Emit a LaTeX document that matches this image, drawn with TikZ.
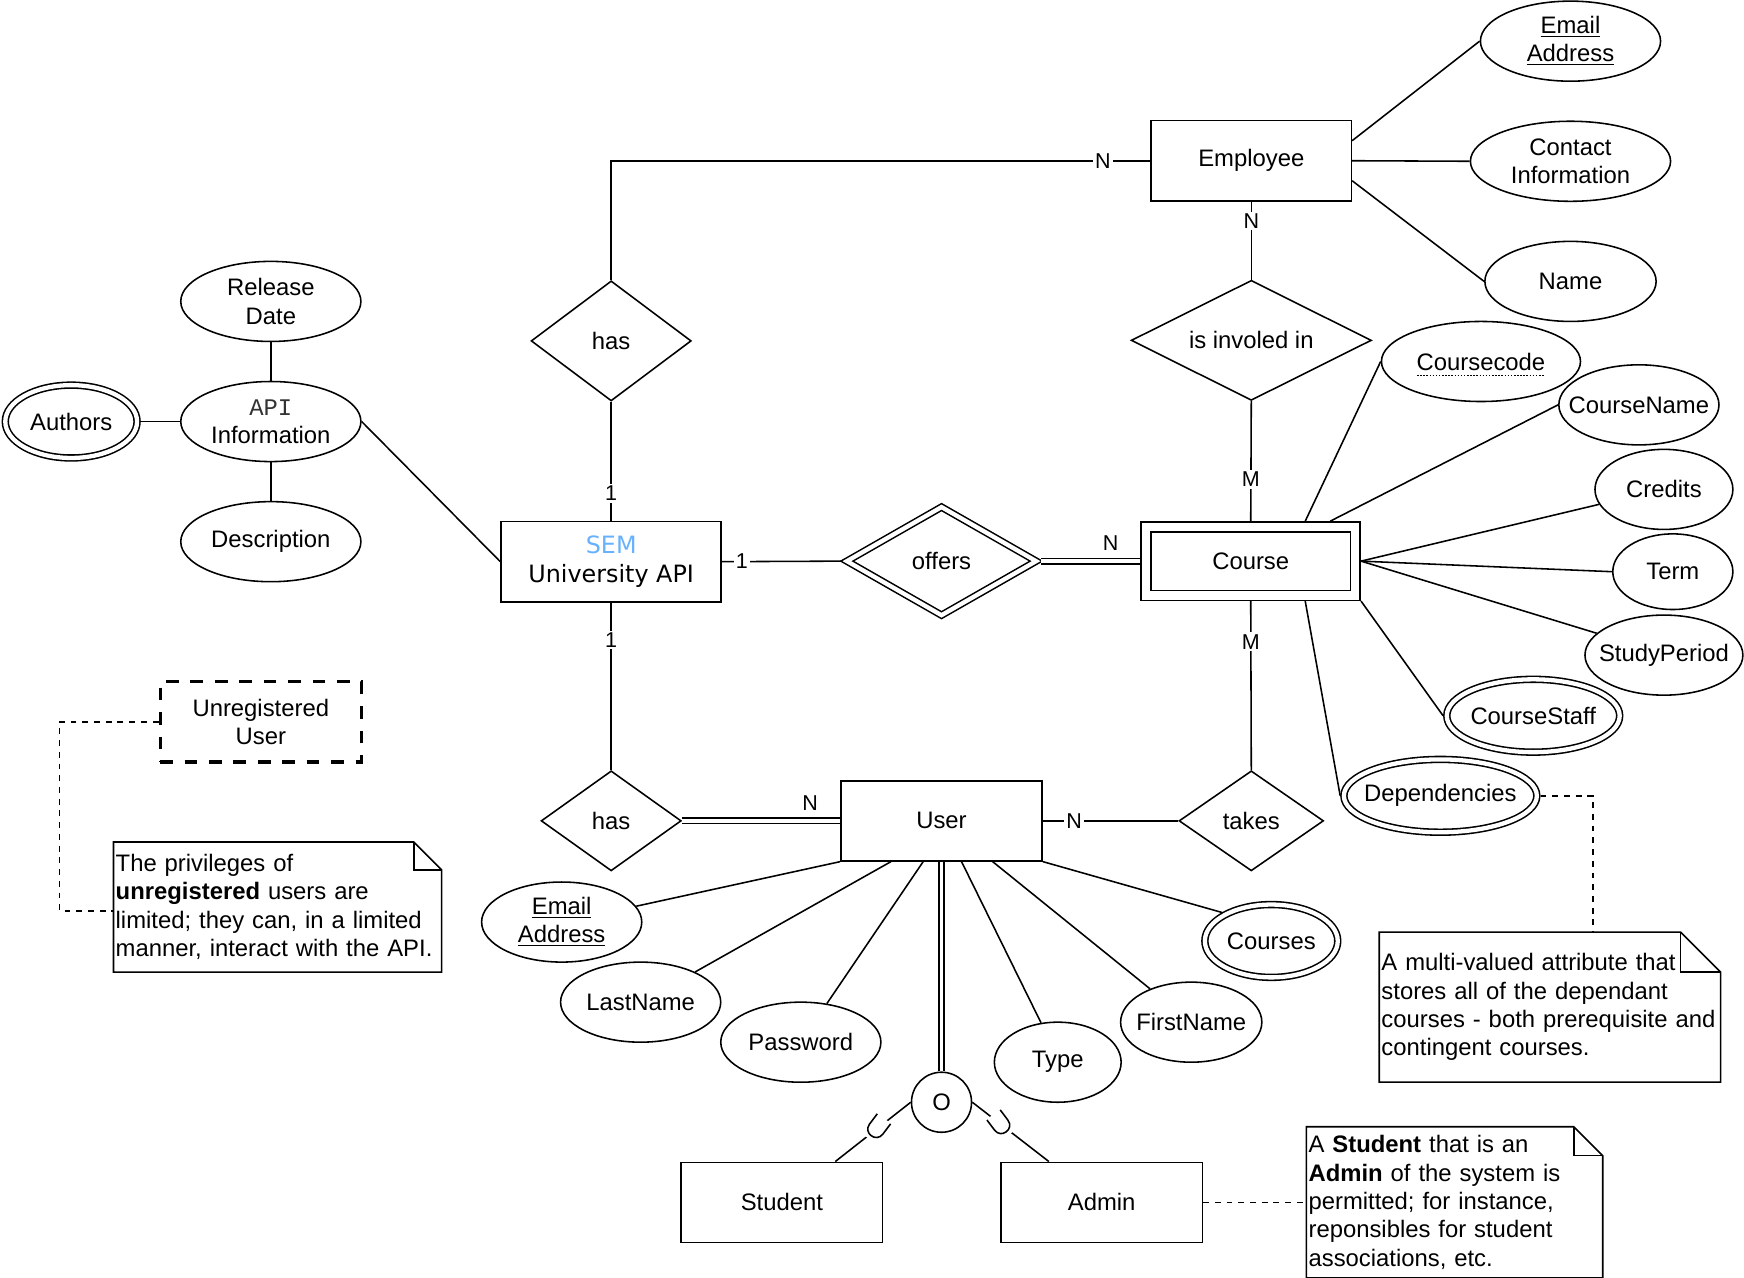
\documentclass[tikz,border=0pt]{standalone}
\usepackage{fontspec}
\setmainfont{Liberation Sans}
\newfontfamily\semfont{DejaVu Sans}
\newfontfamily\apifont{Liberation Mono}
\usepackage{tikz}
\usetikzlibrary{shapes.geometric}
\definecolor{semblue}{HTML}{66B2FF}
\tikzset{
  entity/.style={draw, rectangle, minimum width=3.62cm, minimum height=1.44cm, inner sep=0pt},
  attr/.style={draw, ellipse, minimum height=1.44cm, inner sep=-8pt},
  multi/.style={attr, double, double distance=2.2pt, outer sep=1.9pt, minimum height=1.31cm},
  rel/.style={draw, diamond, aspect=2, inner sep=0pt},
  card/.style={fill=white, inner sep=1pt, font=\fontsize{11}{13}\selectfont},
  link2/.style={double, double distance=2pt},
  dashlink/.style={dash pattern=on 3pt off 3pt},
  note/.style={inner xsep=0.04cm, inner ysep=0pt, outer sep=0pt, align=left},
  cup/.pic={
    \path[fill=white] (-0.17cm,0.2cm) rectangle (0.17cm,-0.26cm);
    \draw (-0.15cm,0.19cm) -- (-0.15cm,-0.04cm) .. controls (-0.15cm,-0.24cm) and (0.15cm,-0.24cm) .. (0.15cm,-0.04cm) -- (0.15cm,0.19cm);
  }
}
\begin{document}
\begin{tikzpicture}[x=0.02cm, y=-0.02cm, line width=0.8pt,
  every node/.style={font=\fontsize{12.2}{14.5}\selectfont, align=center}]
\useasboundingbox (0,0) rectangle (1568,1149);

\node[entity, minimum width=3.6cm] (emp) at (1125,144.5) {Employee};
\node[entity, minimum width=3.96cm] (sem) at (549.5,505) {{\semfont\color{semblue}SEM}\\{\semfont University API}};
\node[entity, double, double distance=4.3pt, outer sep=2.95pt, minimum width=3.76cm, minimum height=1.23cm] (course) at (1124.5,504.5) {Course};
\node[entity] (user) at (846.5,738) {User};
\node[entity] (student) at (703,1081) {Student};
\node[entity] (admin) at (990.5,1081) {Admin};
\node[entity, line width=1.7pt, dash pattern=on 6.5pt off 6pt] (unreg) at (234.5,649) {Unregistered\\User};
\node[draw, circle, minimum size=1.08cm, inner sep=0pt] (ovl) at (846.5,991) {O};

\node[rel, minimum width=2.88cm, minimum height=2.16cm] (has1) at (549.5,306.5) {has};
\node[rel, minimum width=4.32cm, minimum height=2.16cm] (inv) at (1125,306) {is involed in};
\node[rel, double, double distance=2.2pt, outer sep=1.9pt, minimum width=3.46cm, minimum height=2cm] (offers) at (846.5,504.5) {offers};
\node[rel, minimum width=2.52cm, minimum height=1.8cm] (has2) at (549.5,738) {has};
\node[rel, minimum width=2.6cm, minimum height=1.8cm] (takes) at (1125,738) {takes};

\node[attr, minimum width=3.24cm] (empmail) at (1412,37) {\underline{Email}\\\underline{Address}};
\node[attr, minimum width=3.6cm] (contact) at (1412,145) {Contact\\Information};
\node[attr, minimum width=3.08cm] (name) at (1412,253) {Name};
\node[attr, minimum width=3.24cm] (release) at (243.5,271) {Release\\Date};
\node[attr, minimum width=3.24cm] (apiinfo) at (243.5,379) {{\apifont\color{black!80}API}\\Information};
\node[attr, minimum width=3.24cm] (descr) at (243.5,487) {Description};
\node[multi, minimum width=2.37cm] (authors) at (64,379) {Authors};
\node[attr, minimum width=3.58cm] (ccode) at (1331.5,325) {Coursecode};
\node[attr, minimum width=2.88cm] (cname) at (1473.5,364) {CourseName};
\node[attr, minimum width=2.48cm] (credits) at (1496,440) {Credits};
\node[attr, minimum width=2.16cm, minimum height=1.36cm] (term) at (1504,514) {Term};
\node[attr, minimum width=2.84cm] (period) at (1496,589) {StudyPeriod};
\node[multi, minimum width=3.11cm] (staff) at (1378.5,643.5) {CourseStaff};
\node[multi, minimum width=3.47cm] (deps) at (1295,715.5) {Dependencies};
\node[attr, minimum width=2.88cm] (usermail) at (505,829) {\underline{Email}\\\underline{Address}};
\node[attr, minimum width=2.88cm] (lname) at (576,901) {LastName};
\node[attr, minimum width=2.88cm] (pwd) at (720,937) {Password};
\node[attr, minimum width=2.28cm] (type) at (951,955) {Type};
\node[attr, minimum width=2.54cm] (fname) at (1071,919) {FirstName};
\node[multi, minimum width=2.39cm] (courses) at (1143,846) {Courses};

\draw[line width=0.6pt, dash pattern=on 0.8pt off 0.8pt] ([shift={(-57.5,12.5)}]ccode.center) -- ([shift={(57.5,12.5)}]ccode.center);

\draw (has1.north) |- node[card, pos=0.956] {N} (emp.west);
\draw (has1.south) -- node[card, pos=0.77] {1} (sem.north);
\draw (emp.south) -- node[card, pos=0.25] {N} (inv.north);
\draw (inv.south) -- node[card, pos=0.65] {M} (course.north);
\draw ([shift={(0,-18)}]emp.east) -- (empmail.west);
\draw (emp.east) -- (contact.west);
\draw ([shift={(0,18)}]emp.east) -- (name.west);

\draw (release) -- (apiinfo);
\draw (apiinfo) -- (descr);
\draw (authors) -- (apiinfo);
\draw (apiinfo.east) -- (sem.west);

\draw (sem.east) -- node[card, pos=0.165] {1} (offers.west);
\draw[link2] (offers.east) -- node[card, fill=none, above=4pt, pos=0.7] {N} (course.west);
\draw ([shift={(49,0)}]course.north) -- (ccode.west);
\draw ([shift={(71.5,0)}]course.north) -- (cname.west);
\draw (course.east) -- (credits.193);
\draw (course.east) -- (term.west);
\draw (course.east) -- (period.162);
\draw (course.south east) -- (staff.west);
\draw ([shift={(49,0)}]course.south) -- (deps.west);

\draw (course.south) -- node[card, pos=0.24] {M} (takes.north);
\draw (user.east) -- node[card, pos=0.23] {N} (takes.west);
\draw (sem.south) -- node[card, pos=0.224] {1} (has2.north);
\draw[link2] (has2.east) -- node[card, fill=none, above=4pt, pos=0.81] {N} (user.west);

\draw (user.south west) -- (usermail.12);
\draw ([shift={(-45.5,0)}]user.south) -- (lname.29);
\draw ([shift={(-16.5,0)}]user.south) -- (pwd.56);
\draw ([shift={(18,0)}]user.south) -- (type.113);
\draw ([shift={(46,0)}]user.south) -- (fname.141);
\draw (user.south east) -- (courses.150);
\draw[link2] (user.south) -- (ovl.north);
\draw (ovl.west) -- ([shift={(48,0)}]student.north);
\draw (ovl.east) -- ([shift={(-47.5,0)}]admin.north);
\pic[shift={(789,1013.5)}, rotate=-37] {cup};
\pic[shift={(899,1010)}, rotate=37] {cup};

\node[note, text width=5.82cm, minimum height=2.34cm] (note1) at (249.5,815.5) {The privileges of\\\textbf{unregistered} users are\\limited; they can, in a limited\\manner, interact with the API.};
\draw (note1.north west) -- ([shift={(-25,0)}]note1.north east) -- ([shift={(0,25)}]note1.north east) -- (note1.south east) -- (note1.south west) -- cycle;
\draw ([shift={(-25,0)}]note1.north east) |- ([shift={(0,25)}]note1.north east);
\draw[dashlink] (unreg.west) -- ++(-89,0) |- ([shift={(0,3.5)}]note1.west);

\node[note, text width=6.06cm, minimum height=2.7cm] (note2) at (1393.5,905.5) {A multi-valued attribute that\\stores all of the dependant\\courses - both prerequisite and\\contingent courses.};
\draw (note2.north west) -- ([shift={(-36,0)}]note2.north east) -- ([shift={(0,36)}]note2.north east) -- (note2.south east) -- (note2.south west) -- cycle;
\draw ([shift={(-36,0)}]note2.north east) |- ([shift={(0,36)}]note2.north east);
\draw[dashlink] (deps.east) -- ++(47,0) coordinate (depsbend) -- (depsbend |- note2.north);

\node[note, text width=5.25cm, minimum height=2.72cm] (note3) at (1307.75,1081) {A \textbf{Student} that is an\\\textbf{Admin} of the system is\\permitted; for instance,\\reponsibles for student\\associations, etc.};
\draw (note3.north west) -- ([shift={(-26,0)}]note3.north east) -- ([shift={(0,26)}]note3.north east) -- (note3.south east) -- (note3.south west) -- cycle;
\draw ([shift={(-26,0)}]note3.north east) |- ([shift={(0,26)}]note3.north east);
\draw[dashlink] (admin.east) -- (note3.west);
\end{tikzpicture}
\end{document}
